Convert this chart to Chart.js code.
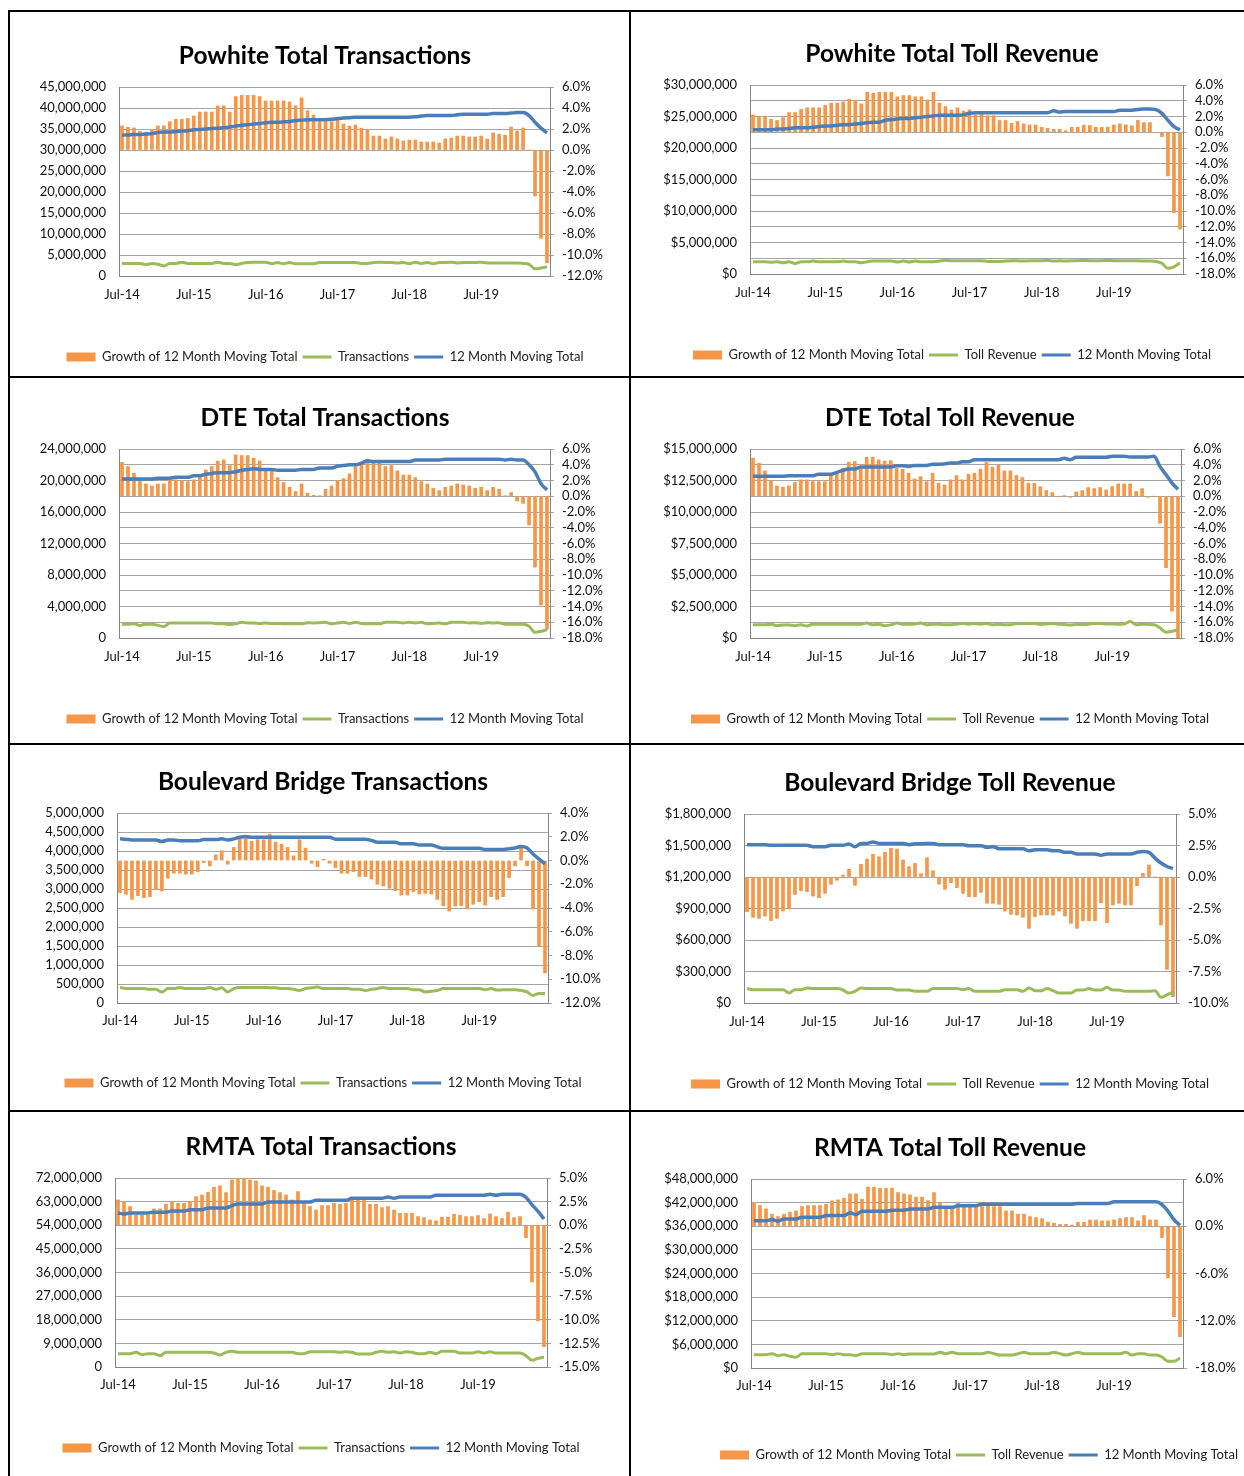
<!DOCTYPE html>
<html><head><meta charset="utf-8">
<script src="https://cdn.jsdelivr.net/npm/chart.js@4.4.1/dist/chart.umd.min.js"></script>
<style>
html,body{margin:0;padding:0;background:#fff;overflow:hidden;}
#page{position:relative;width:1244px;height:1476px;overflow:hidden;background:#fff;}
#page canvas{position:absolute;}
.ln{position:absolute;background:#000;z-index:5;}
</style></head><body><div id="page">
<div class="ln" style="left:8px;top:10px;width:2px;height:1466px"></div>
<div class="ln" style="left:8px;top:10px;width:1236px;height:2px"></div>
<div class="ln" style="left:629px;top:10px;width:2px;height:1466px"></div>
<div class="ln" style="left:8px;top:376px;width:1236px;height:2px"></div>
<div class="ln" style="left:8px;top:743px;width:1236px;height:2px"></div>
<div class="ln" style="left:8px;top:1110px;width:1236px;height:2px"></div>
</div>
<script>
// ---------- categories ----------
const months = ['Jul-14','Aug-14','Sep-14','Oct-14','Nov-14','Dec-14','Jan-15','Feb-15','Mar-15','Apr-15','May-15','Jun-15',
'Jul-15','Aug-15','Sep-15','Oct-15','Nov-15','Dec-15','Jan-16','Feb-16','Mar-16','Apr-16','May-16','Jun-16',
'Jul-16','Aug-16','Sep-16','Oct-16','Nov-16','Dec-16','Jan-17','Feb-17','Mar-17','Apr-17','May-17','Jun-17',
'Jul-17','Aug-17','Sep-17','Oct-17','Nov-17','Dec-17','Jan-18','Feb-18','Mar-18','Apr-18','May-18','Jun-18',
'Jul-18','Aug-18','Sep-18','Oct-18','Nov-18','Dec-18','Jan-19','Feb-19','Mar-19','Apr-19','May-19','Jun-19',
'Jul-19','Aug-19','Sep-19','Oct-19','Nov-19','Dec-19','Jan-20','Feb-20','Mar-20','Apr-20','May-20','Jun-20'];
const tickLabels = ['Jul-14','Jul-15','Jul-16','Jul-17','Jul-18','Jul-19'];

// ---------- Powhite Total Transactions (growth %, monthly M, 12-mo total M) ----------
const powhiteTxGrowth = [2.29,2.16,2.1,1.78,1.7,1.97,2.29,2.29,2.7,2.92,2.92,3.0,
 3.24,3.62,3.62,3.62,4.2,4.2,3.62,5.09,5.2,5.2,5.2,5.09,
 4.67,4.67,4.67,4.67,4.58,4.2,4.96,3.75,3.33,2.7,2.7,2.7,
 2.86,2.48,2.29,2.38,2.06,1.9,1.33,1.33,1.05,1.24,1.05,0.86,
 0.95,0.95,0.76,0.76,0.76,0.67,1.05,1.14,1.33,1.33,1.24,1.24,
 1.33,1.05,1.62,1.49,1.40,2.19,1.81,2.10,0.0,-4.38,-8.41,-10.73];
const powhiteTxMonthly = [3.0,3.0,3.0,3.0,2.7,3.0,2.8,2.4,3.0,3.0,3.3,3.0,
 3.0,3.0,3.0,3.0,3.3,3.0,3.0,2.7,3.0,3.2,3.3,3.3,
 3.3,2.9,3.2,2.9,3.2,2.9,2.9,2.9,2.9,3.2,3.2,3.2,
 3.2,3.2,3.2,3.2,3.0,3.0,3.2,3.3,3.2,3.2,3.1,3.2,
 2.9,3.3,3.0,3.2,2.9,3.2,3.2,3.3,3.1,3.2,3.2,3.2,
 3.3,3.1,3.1,3.1,3.1,3.1,3.1,3.0,2.8,1.7,1.9,2.2];
const powhiteTxMoving = [33.6,33.6,33.7,33.7,33.8,33.9,34.2,34.3,34.3,34.4,34.5,34.6,
 34.8,34.9,35.0,35.1,35.2,35.3,35.5,35.7,35.9,36.0,36.2,36.3,
 36.5,36.6,36.6,36.7,36.8,37.0,37.1,37.2,37.2,37.2,37.2,37.3,
 37.5,37.6,37.7,37.8,37.8,37.8,37.8,37.8,37.8,37.8,37.8,37.8,
 37.8,37.9,38.1,38.2,38.2,38.2,38.2,38.2,38.4,38.5,38.5,38.5,
 38.5,38.5,38.7,38.7,38.7,38.8,38.9,38.9,38.2,36.6,35.2,34.1];

// ---------- Powhite Total Toll Revenue ($M) ----------
const powhiteRevGrowth = [2.2,2.0,2.0,1.65,1.5,1.86,2.5,2.5,2.9,3.1,3.1,3.1,
 3.4,3.7,3.7,3.86,4.2,4.07,3.6,5.08,4.96,5.08,5.08,5.08,
 4.5,4.66,4.66,4.5,4.5,4.1,5.08,3.7,3.26,2.84,3.1,2.7,
 2.84,2.2,2.5,2.1,2.1,1.5,1.5,1.14,1.36,1.06,0.93,0.93,
 0.64,0.5,0.38,0.38,0.2,0.64,0.64,0.9,0.85,0.64,0.64,0.64,
 0.93,1.06,0.93,0.8,1.5,1.23,1.23,0,-0.55,-5.55,-10.2,-12.3];
const powhiteRevMonthly = [1.95,1.95,1.95,1.85,1.95,1.8,1.95,1.65,1.95,1.95,2.05,1.95,
 1.95,1.95,1.95,2.05,1.95,1.95,1.8,1.95,2.05,2.05,2.05,2.05,
 1.9,2.05,1.9,2.05,1.95,1.95,1.95,2.05,2.2,2.1,2.1,2.1,
 2.1,2.1,2.1,2.0,2.0,2.0,2.05,2.1,2.1,2.05,2.1,2.1,
 2.1,2.15,2.05,2.1,2.05,2.1,2.1,2.15,2.1,2.1,2.1,2.15,
 2.1,2.1,2.1,2.1,2.1,2.05,2.05,2.0,1.7,0.9,1.15,1.75];
const powhiteRevMoving = [22.9,22.9,22.9,22.9,23.0,23.0,23.1,23.2,23.2,23.2,23.3,23.4,
 23.5,23.5,23.6,23.7,23.7,23.8,23.9,24.0,24.1,24.1,24.4,24.5,
 24.6,24.7,24.7,24.8,24.9,25.0,25.1,25.2,25.2,25.2,25.2,25.3,
 25.5,25.6,25.6,25.6,25.6,25.6,25.6,25.6,25.6,25.6,25.6,25.6,
 25.6,25.6,25.9,25.7,25.8,25.8,25.8,25.8,25.8,25.8,25.8,25.8,
 25.8,26.0,26.0,26.0,26.1,26.2,26.2,26.1,25.5,24.4,23.4,22.9];

// ---------- DTE Total Transactions ----------
const dteTxGrowth = [4.3,3.77,2.92,1.95,1.57,1.31,1.57,1.57,2.08,2.08,1.95,1.86,
 2.08,2.7,3.35,3.77,4.45,4.62,3.9,5.25,5.17,5.17,4.83,4.49,
 3.22,3.22,2.37,1.74,1.14,0.6,1.57,0.38,0.13,0.04,0.89,1.31,
 1.95,2.25,2.84,3.77,4.07,4.7,4.2,4.2,3.77,3.9,3.22,2.7,
 2.7,2.37,1.86,1.57,1.02,0.72,1.14,1.31,1.57,1.44,1.31,1.02,
 1.14,0.72,1.14,0.89,0.05,0.47,-0.6,-0.9,-3.64,-9.0,-13.8,-16.9];
const dteTxMonthly = [1.75,1.75,1.8,1.6,1.75,1.75,1.6,1.45,1.9,1.9,1.9,1.9,
 1.9,1.9,1.9,1.9,1.8,1.8,1.7,1.8,2.0,1.9,1.9,1.85,
 1.9,1.85,1.85,1.8,1.8,1.8,1.8,1.95,1.9,1.95,2.0,1.8,
 1.9,2.0,1.85,2.0,1.85,1.8,1.8,1.8,2.0,2.0,2.0,1.9,
 2.0,1.9,2.0,1.8,1.85,1.9,1.8,2.0,2.0,2.0,1.9,1.95,
 1.85,1.95,1.9,1.95,1.75,1.75,1.75,1.75,1.5,0.72,0.85,1.06];
const dteTxMoving = [20.2,20.2,20.2,20.2,20.2,20.2,20.3,20.3,20.3,20.4,20.4,20.4,
 20.6,20.6,20.8,20.9,21.0,21.0,21.0,21.1,21.3,21.4,21.5,21.4,
 21.4,21.4,21.3,21.3,21.3,21.3,21.4,21.4,21.4,21.6,21.6,21.6,
 21.8,21.9,22.0,22.0,22.2,22.5,22.4,22.4,22.4,22.4,22.4,22.4,
 22.4,22.6,22.6,22.6,22.6,22.6,22.7,22.7,22.7,22.7,22.7,22.7,
 22.7,22.7,22.7,22.7,22.6,22.7,22.6,22.6,22.0,21.1,19.6,18.8];

// ---------- DTE Total Toll Revenue ----------
const dteRevGrowth = [4.83,4.2,3.22,1.95,1.31,1.14,1.31,1.74,2.08,2.08,1.86,1.86,
 1.86,2.8,2.92,3.56,4.32,4.4,3.77,4.96,4.96,4.62,4.45,4.53,
 3.56,3.43,2.92,2.2,2.5,1.86,2.92,1.65,1.44,2.08,2.63,2.08,
 2.8,2.92,3.43,4.28,3.69,3.98,3.22,3.22,2.63,2.37,1.65,1.65,
 1.23,0.72,0.47,0,0.08,-0.13,0.55,0.72,1.1,0.97,1.1,0.8,
 1.23,1.57,1.57,1.57,0.6,0.97,-0.13,0,-3.43,-9.07,-14.6,-18.0];
const dteRevMonthly = [1.06,1.06,1.06,1.1,0.98,1.04,1.04,0.98,1.06,0.95,1.1,1.1,
 1.1,1.1,1.1,1.1,1.1,1.1,1.1,1.19,1.06,1.1,0.98,1.04,
 1.19,1.1,1.1,1.12,1.19,1.06,1.1,1.1,1.06,1.06,1.1,1.15,
 1.1,1.15,1.1,1.15,1.06,1.1,1.06,1.06,1.15,1.15,1.15,1.15,
 1.08,1.12,1.15,1.1,1.08,1.03,1.08,1.08,1.1,1.15,1.15,1.12,
 1.12,1.1,1.12,1.3,1.06,1.1,1.08,1.06,0.8,0.45,0.53,0.66];
const dteRevMoving = [12.83,12.83,12.83,12.83,12.83,12.83,12.88,12.88,12.88,12.88,12.88,13.0,
 13.0,13.0,13.15,13.3,13.41,13.41,13.57,13.57,13.57,13.57,13.57,13.57,
 13.68,13.68,13.62,13.7,13.7,13.7,13.78,13.78,13.82,13.89,13.89,13.99,
 13.99,14.15,14.15,14.15,14.15,14.15,14.15,14.15,14.15,14.15,14.15,14.15,
 14.15,14.15,14.15,14.15,14.26,14.15,14.34,14.34,14.34,14.34,14.34,14.34,
 14.42,14.42,14.42,14.37,14.37,14.37,14.37,14.42,13.6,12.96,12.3,11.8];

// ---------- Boulevard Bridge Transactions ----------
const blvdTxGrowth = [-2.7,-2.85,-3.27,-2.96,-3.13,-3.04,-2.42,-2.56,-1.49,-1.07,-1.07,-1.15,
 -1.15,-0.93,-0.17,-0.45,0.48,0.82,-0.31,1.1,1.89,2.03,1.61,1.75,
 1.75,2.23,1.55,1.38,1.1,0.39,1.75,1.04,-0.23,-0.51,0.11,-0.23,
 -0.59,-1.07,-1.07,-0.93,-1.35,-1.35,-1.55,-2.0,-2.14,-2.34,-2.54,-2.9,
 -2.9,-2.62,-2.82,-2.76,-2.82,-3.27,-3.8,-4.25,-3.83,-3.8,-4.08,-3.69,
 -3.46,-3.75,-3.04,-3.27,-3.04,-1.44,-0.45,1.04,-0.45,-4.08,-7.21,-9.46];
const blvdTxMonthly = [0.41,0.38,0.38,0.38,0.38,0.36,0.36,0.29,0.38,0.38,0.41,0.38,
 0.38,0.38,0.38,0.41,0.36,0.40,0.29,0.38,0.41,0.41,0.41,0.41,
 0.41,0.40,0.40,0.38,0.38,0.36,0.33,0.38,0.40,0.42,0.38,0.38,
 0.38,0.38,0.38,0.36,0.36,0.33,0.36,0.38,0.41,0.38,0.38,0.38,
 0.38,0.35,0.35,0.29,0.31,0.33,0.38,0.38,0.38,0.38,0.38,0.38,
 0.38,0.35,0.38,0.34,0.35,0.35,0.35,0.33,0.29,0.20,0.25,0.25];
const blvdTxMoving = [4.32,4.31,4.29,4.29,4.29,4.29,4.29,4.25,4.29,4.29,4.27,4.27,
 4.27,4.27,4.3,4.3,4.3,4.32,4.29,4.32,4.36,4.38,4.36,4.36,
 4.36,4.36,4.36,4.36,4.36,4.36,4.36,4.36,4.36,4.36,4.36,4.36,
 4.31,4.31,4.31,4.31,4.31,4.31,4.28,4.23,4.23,4.23,4.23,4.19,
 4.19,4.19,4.16,4.16,4.16,4.11,4.07,4.07,4.07,4.07,4.07,4.07,
 4.07,4.04,4.04,4.04,4.04,4.06,4.08,4.12,4.08,3.92,3.79,3.66];

// ---------- Boulevard Bridge Toll Revenue ----------
const blvdRevGrowth = [-2.75,-3.2,-3.28,-3.1,-3.47,-3.28,-2.7,-2.54,-1.38,-1.08,-1.16,-1.51,
 -1.64,-1.3,-0.58,-0.26,0.16,0.61,-0.66,1.0,1.43,1.8,1.61,1.96,
 2.28,2.22,1.35,0.82,1.08,0.26,1.53,0.5,-0.56,-0.98,-0.45,-0.85,
 -1.3,-1.56,-1.56,-1.22,-2.09,-2.09,-2.17,-2.7,-2.96,-3.02,-3.2,-4.07,
 -3.15,-3.02,-3.02,-3.02,-2.7,-3.1,-3.68,-4.07,-3.47,-3.47,-3.47,-2.04,
 -3.62,-2.22,-2.09,-2.22,-2.22,-0.69,0.29,0.95,0.0,-3.81,-7.33,-9.5];
const blvdRevMonthly = [0.137,0.127,0.127,0.127,0.127,0.127,0.127,0.095,0.127,0.127,0.143,0.137,
 0.137,0.137,0.137,0.137,0.124,0.095,0.111,0.143,0.137,0.137,0.137,0.137,
 0.137,0.124,0.124,0.124,0.111,0.111,0.111,0.137,0.137,0.137,0.137,0.137,
 0.127,0.137,0.111,0.111,0.111,0.111,0.111,0.127,0.127,0.127,0.111,0.143,
 0.117,0.117,0.137,0.117,0.095,0.095,0.095,0.124,0.124,0.137,0.124,0.124,
 0.149,0.124,0.124,0.111,0.111,0.111,0.111,0.111,0.117,0.054,0.079,0.1];
const blvdRevMoving = [1.508,1.508,1.508,1.508,1.502,1.502,1.502,1.502,1.502,1.502,1.502,1.489,
 1.489,1.489,1.502,1.502,1.502,1.514,1.489,1.52,1.52,1.533,1.52,1.52,
 1.52,1.52,1.52,1.508,1.517,1.517,1.52,1.52,1.508,1.508,1.508,1.508,
 1.508,1.498,1.498,1.498,1.483,1.489,1.47,1.47,1.47,1.47,1.47,1.45,
 1.46,1.46,1.46,1.45,1.45,1.435,1.435,1.419,1.419,1.419,1.419,1.406,
 1.419,1.419,1.419,1.419,1.419,1.435,1.444,1.435,1.38,1.333,1.3,1.28];

// ---------- RMTA Total Transactions ----------
const rmtaTxGrowth = [2.68,2.43,1.98,1.09,1.09,1.09,1.73,1.73,2.22,2.43,2.33,2.33,
 2.5,3.03,3.21,3.49,4.02,4.16,3.46,4.8,4.97,4.97,4.8,4.69,
 4.16,4.02,3.67,3.46,3.21,2.68,3.56,2.33,1.98,1.62,2.08,2.08,
 2.33,2.22,2.33,2.68,2.68,2.68,2.22,2.22,1.87,1.98,1.62,1.27,
 1.27,1.27,0.92,0.81,0.56,0.46,0.85,0.85,1.16,1.06,0.92,0.92,
 1.02,0.71,1.2,0.92,0.71,1.38,0.81,0.92,-1.31,-6.0,-10.12,-12.84];
const rmtaTxMonthly = [5.08,5.08,5.08,5.59,4.7,5.08,5.08,4.32,5.59,5.59,5.59,5.59,
 5.59,5.59,5.59,5.59,5.33,4.57,5.59,5.97,5.59,5.59,5.59,5.59,
 5.59,5.59,5.59,5.59,5.59,5.59,5.08,5.08,5.84,5.84,5.84,5.84,
 5.84,5.59,5.84,5.59,4.95,4.95,4.95,5.59,5.97,5.59,5.84,5.33,
 5.84,5.59,5.08,5.08,5.59,5.08,5.97,5.97,5.97,5.33,5.33,5.33,
 5.84,5.33,5.84,5.33,5.33,5.33,5.33,5.33,4.32,2.54,3.3,3.81];
const rmtaTxMoving = [58.7,58.3,58.7,58.7,58.7,58.7,59.0,59.0,59.0,59.4,59.4,59.4,
 59.9,59.9,59.9,60.6,60.6,60.6,60.6,61.5,62.1,62.1,62.1,62.1,
 62.1,62.9,62.9,62.9,62.9,62.9,62.9,62.9,62.9,63.5,63.5,63.5,
 63.5,63.5,63.5,64.3,64.3,64.3,64.3,64.3,64.3,64.8,64.3,64.8,
 64.8,64.8,64.8,64.8,64.8,65.4,65.4,65.4,65.4,65.4,65.4,65.4,
 65.4,65.4,65.8,65.4,65.8,65.8,65.8,65.8,64.6,61.8,59.3,56.4];

// ---------- RMTA Total Toll Revenue ----------
const rmtaRevGrowth = [2.92,2.63,2.2,1.53,1.23,1.53,1.78,1.95,2.5,2.63,2.63,2.63,
 2.8,3.22,3.35,3.56,4.11,4.11,3.43,4.96,4.96,4.83,4.83,4.83,
 4.28,4.11,3.98,3.69,3.69,3.26,4.28,2.92,2.5,2.5,2.92,2.63,
 2.8,2.5,2.5,3.0,2.5,2.5,1.95,1.95,1.53,1.53,1.23,1.1,
 0.97,0.51,0.38,0.25,0.25,0.13,0.51,0.51,0.8,0.8,0.68,0.68,
 0.8,0.97,1.1,1.1,0.68,1.36,0.8,0.8,-1.44,-6.53,-11.48,-14.03];
const rmtaRevMonthly = [3.39,3.39,3.39,3.64,3.13,3.39,2.96,2.71,3.64,3.64,3.64,3.64,
 3.64,3.39,3.64,3.39,3.39,3.13,3.64,3.64,3.64,3.64,3.64,3.39,
 3.64,3.39,3.56,3.56,3.56,3.56,3.56,3.98,3.64,3.98,3.64,3.64,
 3.64,3.64,3.64,3.98,3.64,3.30,3.30,3.30,3.64,3.98,3.64,3.64,
 3.64,3.64,3.98,3.64,3.30,3.64,3.98,3.64,3.64,3.64,3.64,3.64,
 3.64,3.64,3.98,3.30,3.64,3.64,3.30,3.30,2.79,1.69,1.69,2.54];
const rmtaRevMoving = [37.4,37.4,37.4,37.7,37.3,37.85,37.85,37.85,38.3,38.3,38.3,38.3,
 38.7,38.7,38.7,38.7,39.4,38.95,39.8,39.8,39.8,39.8,39.8,40.05,
 40.05,40.05,40.4,40.4,40.4,40.4,40.8,40.8,40.8,40.8,41.2,41.2,
 41.2,41.2,41.6,41.6,41.6,41.6,41.6,41.6,41.6,41.6,41.6,41.6,
 41.6,41.6,41.6,41.6,41.6,41.6,41.8,41.8,41.8,41.8,41.8,41.8,
 42.2,42.2,42.2,42.2,42.2,42.2,42.2,42.2,41.5,39.8,37.7,36.2];

// ---------- chart definitions (text + axis ranges) ----------
const chartDefs = [
 {title:'Powhite Total Transactions', series:'Transactions', growth:powhiteTxGrowth, monthly:powhiteTxMonthly, moving:powhiteTxMoving,
  money:'', leftMax:45, leftStep:5, rMin:-12, rMax:6, rStep:2, rightGrid:true},
 {title:'Powhite Total Toll Revenue', series:'Toll Revenue', growth:powhiteRevGrowth, monthly:powhiteRevMonthly, moving:powhiteRevMoving,
  money:'$', leftMax:30, leftStep:5, rMin:-18, rMax:6, rStep:2, rightGrid:true},
 {title:'DTE Total Transactions', series:'Transactions', growth:dteTxGrowth, monthly:dteTxMonthly, moving:dteTxMoving,
  money:'', leftMax:24, leftStep:4, rMin:-18, rMax:6, rStep:2, rightGrid:true},
 {title:'DTE Total Toll Revenue', series:'Toll Revenue', growth:dteRevGrowth, monthly:dteRevMonthly, moving:dteRevMoving,
  money:'$', leftMax:15, leftStep:2.5, rMin:-18, rMax:6, rStep:2, rightGrid:true},
 {title:'Boulevard Bridge Transactions', series:'Transactions', growth:blvdTxGrowth, monthly:blvdTxMonthly, moving:blvdTxMoving,
  money:'', leftMax:5, leftStep:0.5, rMin:-12, rMax:4, rStep:2, rightGrid:false},
 {title:'Boulevard Bridge Toll Revenue', series:'Toll Revenue', growth:blvdRevGrowth, monthly:blvdRevMonthly, moving:blvdRevMoving,
  money:'$', leftMax:1.8, leftStep:0.3, rMin:-10, rMax:5, rStep:2.5, rightGrid:true},
 {title:'RMTA Total Transactions', series:'Transactions', growth:rmtaTxGrowth, monthly:rmtaTxMonthly, moving:rmtaTxMoving,
  money:'', leftMax:72, leftStep:9, rMin:-15, rMax:5, rStep:2.5, rightGrid:true},
 {title:'RMTA Total Toll Revenue', series:'Toll Revenue', growth:rmtaRevGrowth, monthly:rmtaRevMonthly, moving:rmtaRevMoving,
  money:'$', leftMax:48, leftStep:6, rMin:-18, rMax:6, rStep:6, rightGrid:true}
];

// ---------- layout (page geometry of each panel) ----------
const layouts = [
 {x0:10, y0:12,  w:619,h:364, L:119,R:550, T:87,  B:276,  titleY:56,  cx:325, legendY:357,  xLabelY:295},
 {x0:631,y0:12,  w:613,h:364, L:750,R:1183,T:85,  B:274,  titleY:54,  cx:952, legendY:355,  xLabelY:293},
 {x0:10, y0:378, w:619,h:365, L:119,R:550, T:449, B:638,  titleY:418, cx:325, legendY:719,  xLabelY:657},
 {x0:631,y0:378, w:613,h:365, L:750,R:1181,T:449, B:638,  titleY:418, cx:950, legendY:719,  xLabelY:657},
 {x0:10, y0:745, w:619,h:365, L:117,R:548, T:813, B:1003, titleY:782, cx:323, legendY:1083, xLabelY:1021},
 {x0:631,y0:745, w:613,h:365, L:744,R:1176,T:814, B:1003, titleY:783, cx:950, legendY:1084, xLabelY:1022},
 {x0:10, y0:1112,w:619,h:364, L:115,R:547, T:1178,B:1367, titleY:1147,cx:321, legendY:1448, xLabelY:1385},
 {x0:631,y0:1112,w:613,h:364, L:751,R:1183,T:1179,B:1368, titleY:1148,cx:950, legendY:1455, xLabelY:1386, legendAlign:'end', pR:1}
];

const ORANGE = '#F79646', GREEN = '#9BBB59', BLUE = '#4A7EBB';
const GRID = '#A6A6A6', AXIS = '#868686', TXT = '#111111';
const FAMILY = 'Lato, "Open Sans", "DejaVu Sans", sans-serif';
const TITLE_SIZE = 24.5, TICK_SIZE = 13, LEG_SIZE = 13, LEG_PAD = 5;
const page = document.getElementById('page');

function makeChart(def, g) {
  const cv = document.createElement('canvas');
  cv.width = g.w; cv.height = g.h;
  cv.style.left = g.x0 + 'px'; cv.style.top = g.y0 + 'px';
  cv.style.width = g.w + 'px'; cv.style.height = g.h + 'px';
  page.appendChild(cv);

  const d = 2 * (g.cx - g.x0) - g.w;
  let pR = g.pR || 0, pL = d + pR;
  if (pL < 0) { pR = pR - pL; pL = 0; }
  const wL = g.L - (g.x0 + pL);
  const wR = (g.x0 + g.w - pR) - g.R;
  const tlh = TITLE_SIZE * 1.2;
  const tpT = g.titleY - g.y0 - tlh / 2;
  const tpB = g.T - g.y0 - tpT - tlh;
  const itemH = LEG_SIZE;
  const pB = g.y0 + g.h - 10 - itemH / 2 - g.legendY;
  const xH = g.legendY - itemH / 2 - LEG_PAD - g.B;
  const xPad = g.xLabelY - g.B - TICK_SIZE * 1.2 / 2;
  const tickFont = {family: FAMILY, size: TICK_SIZE};

  return new Chart(cv, {
    type: 'bar',
    data: {
      labels: months,
      datasets: [
        {type:'bar', label:'Growth of 12 Month Moving Total', data:def.growth, yAxisID:'y1',
         backgroundColor:ORANGE, borderWidth:0, barThickness:3, order:3},
        {type:'line', label:def.series, data:def.monthly, yAxisID:'y', borderColor:GREEN, backgroundColor:GREEN,
         borderWidth:3, pointRadius:0, cubicInterpolationMode:'monotone', order:2},
        {type:'line', label:'12 Month Moving Total', data:def.moving, yAxisID:'y', borderColor:BLUE, backgroundColor:BLUE,
         borderWidth:3.5, pointRadius:0, cubicInterpolationMode:'monotone', order:1}
      ]
    },
    options: {
      responsive:false, animation:false, devicePixelRatio:1,
      events: [],
      layout: {padding: {left:pL, right:pR, top:0, bottom:pB}},
      plugins: {
        tooltip: {enabled:false},
        title: {display:true, text:def.title, color:'#000',
                font:{family:FAMILY, size:TITLE_SIZE, weight:'bold'}, padding:{top:tpT, bottom:tpB}},
        legend: {display:true, position:'bottom', align:g.legendAlign || 'center',
          labels: {font:{family:FAMILY, size:LEG_SIZE}, color:'#222', usePointStyle:true, pointStyleWidth:29,
            boxHeight:9, padding:LEG_PAD,
            sort:(a, b) => a.datasetIndex - b.datasetIndex,
            generateLabels(chart) {
              const items = Chart.defaults.plugins.legend.labels.generateLabels(chart);
              items.forEach(it => {
                const ds = chart.data.datasets[it.datasetIndex];
                if (ds.type === 'bar') { it.pointStyle = 'rect'; it.fillStyle = ds.backgroundColor; it.strokeStyle = ds.backgroundColor; it.lineWidth = 0; }
                else { it.pointStyle = 'line'; it.fillStyle = ds.borderColor; it.strokeStyle = ds.borderColor; it.lineWidth = 3; }
                it.fontColor = '#222';
              });
              return items;
            }}}
      },
      scales: {
        x: {type:'category', offset:true,
            grid:{display:false, drawTicks:false, tickLength:0},
            border:{display:true, color:AXIS, width:1},
            ticks:{autoSkip:false, maxRotation:0, minRotation:0, padding:xPad, color:TXT, font:tickFont,
                   callback:function(v){ const lab = this.getLabelForValue(v); return tickLabels.includes(lab) ? lab : ''; }},
            afterFit:s => { s.height = xH; }},
        y: {position:'left', min:0, max:def.leftMax,
            grid:{color:GRID, drawTicks:false, lineWidth:1},
            border:{display:true, color:AXIS, width:1},
            ticks:{stepSize:def.leftStep, autoSkip:false, padding:13, color:TXT, font:tickFont,
                   callback:v => def.money + Math.round(v * 1e6).toLocaleString('en-US')},
            afterFit:s => { s.width = wL; }},
        y1: {position:'right', min:def.rMin, max:def.rMax,
            grid:{color:GRID, drawOnChartArea:def.rightGrid, drawTicks:true, tickLength:4, lineWidth:1},
            border:{display:true, color:AXIS, width:1},
            ticks:{stepSize:def.rStep, autoSkip:false, padding:8, color:TXT, font:tickFont,
                   callback:v => (Math.abs(v) < 1e-9 ? 0 : v).toFixed(1) + '%'},
            afterFit:s => { s.width = wR; }}
      }
    }
  });
}

chartDefs.forEach((def, i) => makeChart(def, layouts[i]));
</script>
</body></html>
